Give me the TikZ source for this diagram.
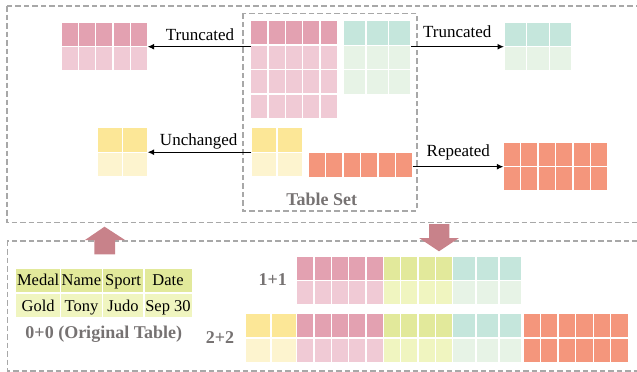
\documentclass[tikz,border=0pt]{standalone}
\usepackage{fontspec}
\setmainfont{Liberation Serif}
\usetikzlibrary{arrows.meta}
\definecolor{pinkD}{HTML}{E3A1B1}
\definecolor{pinkL}{HTML}{F0CAD5}
\definecolor{tealD}{HTML}{C5E6DC}
\definecolor{tealL}{HTML}{E7F3E6}
\definecolor{yelD}{HTML}{FCE797}
\definecolor{yelL}{HTML}{FDF4CF}
\definecolor{orng}{HTML}{F4967C}
\definecolor{limeD}{HTML}{E2E99B}
\definecolor{limeL}{HTML}{F0F5C0}
\definecolor{dashgray}{HTML}{A8A8A8}
\definecolor{labgray}{HTML}{767272}
\definecolor{blockarrow}{HTML}{C8828A}
\tikzset{
  cell/.style={draw=white, line width=1.4pt},
  dashbox/.style={draw=dashgray, line width=1.6pt, dash pattern=on 5.5pt off 3pt},
  conn/.style={draw=black, line width=1.1pt, -{Latex[length=6.5pt,width=6pt]}},
  lbl/.style={inner sep=0pt, font=\fontsize{17}{19}\selectfont, anchor=base},
  blbl/.style={inner sep=0pt, font=\fontsize{18}{20}\selectfont\bfseries, text=labgray, anchor=base},
  ttxt/.style={inner sep=0pt, font=\fontsize{16.5}{18}\selectfont, anchor=base},
  blk/.style={fill=blockarrow, draw=none}
}
\newcommand{\crow}[6]{\foreach \ci in {1,...,#3}{\filldraw[cell, fill=#6] ({#1+(\ci-1)*#4},#2) rectangle ++(#4,#5);}}
\newcommand{\tnode}[5]{\node[inner sep=0pt, outer sep=0pt, minimum width=#4pt, minimum height=#5pt, anchor=north west] (#1) at (#2,#3) {};}
\begin{document}
\begin{tikzpicture}[x=1pt,y=-1pt]
\useasboundingbox (0,0) rectangle (637,372);
\begin{scope}
\clip (0,0) rectangle (637,372);
% outer boxes
\draw[dashbox] (7,6) rectangle (660,222.5);
\draw[dashbox] (7.3,240.7) rectangle (660,370.7);
\end{scope}
% table set box
\draw[dashbox] (243,13.3) rectangle (416.7,211);
\node[blbl] (tsetlbl) at (321.7,205) {Table Set};

% ---- Table set contents
% pink 5x4
\crow{250.7}{20.7}{5}{17.32}{24.4}{pinkD}
\crow{250.7}{45.1}{5}{17.32}{24.4}{pinkL}
\crow{250.7}{69.5}{5}{17.32}{24.4}{pinkL}
\crow{250.7}{93.9}{5}{17.32}{24.4}{pinkL}
\tnode{pinkset}{250.7}{20.7}{86.6}{97.6}
% teal 3x3
\crow{343.3}{20.7}{3}{22.57}{24.5}{tealD}
\crow{343.3}{45.2}{3}{22.57}{24.5}{tealL}
\crow{343.3}{69.7}{3}{22.57}{24.5}{tealL}
\tnode{gset}{343.3}{20.7}{67.7}{73.5}
% yellow 2x2
\crow{251.3}{127.7}{2}{25.7}{24.5}{yelD}
\crow{251.3}{152.2}{2}{25.7}{24.5}{yelL}
\tnode{yset}{251.3}{127.7}{51.4}{49}
% orange 6x1
\crow{308.3}{152.7}{6}{17.4}{24.5}{orng}
\tnode{oset}{308.3}{152.7}{104.4}{24.5}

% ---- outputs
\crow{61}{22.3}{5}{17.34}{24.4}{pinkD}
\crow{61}{46.7}{5}{17.34}{24.4}{pinkL}
\tnode{pinkout}{61}{22.3}{86.7}{48.8}
\crow{97}{127.7}{2}{25.35}{24.5}{yelD}
\crow{97}{152.2}{2}{25.35}{24.5}{yelL}
\tnode{yout}{97}{127.7}{50.7}{49}
\crow{504}{22.3}{3}{22.67}{24.4}{tealD}
\crow{504}{46.7}{3}{22.67}{24.4}{tealL}
\tnode{gout}{504}{22.3}{68}{48.8}
\crow{503.3}{142.3}{6}{17.4}{24.4}{orng}
\crow{503.3}{166.7}{6}{17.4}{24.4}{orng}
\tnode{oout}{503.3}{142.3}{104.4}{48.8}

% connectors
\draw[conn] (pinkset.west |- pinkout.east) -- (pinkout.east);
\draw[conn] (yset.west |- yout.east) -- (yout.east);
\draw[conn] (gset.east |- gout.west) -- (gout.west);
\draw[conn] (oset.east |- oout.west) -- (oout.west);
\node[lbl] (ltrunc) at (200,40) {Truncated};
\node[lbl] (lunch) at (198.7,145.5) {Unchanged};
\node[lbl] (rtrunc) at (457.2,37.7) {Truncated};
\node[lbl] (rrep) at (458.3,156.7) {Repeated};

% block arrows
\fill[blk] (94.3,254.3) -- (94.3,240) -- (85,240) -- (104.5,226.7) -- (125,240) -- (115,240) -- (115,254.3) -- cycle;
\fill[blk] (429,224) -- (449.3,224) -- (449.3,238) -- (459,238) -- (439,251.3) -- (419,238) -- (429,238) -- cycle;

% ---- original table
\filldraw[cell, fill=limeD] (15.7,268) rectangle (60.5,293);
\filldraw[cell, fill=limeD] (60.5,268) rectangle (102.3,293);
\filldraw[cell, fill=limeD] (102.3,268) rectangle (143.8,293);
\filldraw[cell, fill=limeD] (143.8,268) rectangle (192.2,293);
\filldraw[cell, fill=limeL] (15.7,293) rectangle (60.5,318);
\filldraw[cell, fill=limeL] (60.5,293) rectangle (102.3,318);
\filldraw[cell, fill=limeL] (102.3,293) rectangle (143.8,318);
\filldraw[cell, fill=limeL] (143.8,293) rectangle (192.2,318);
\node[ttxt] (h1) at (38.1,285.7) {Medal};
\node[ttxt] (h2) at (81.4,285.7) {Name};
\node[ttxt] (h3) at (123,285.7) {Sport};
\node[ttxt] (h4) at (168,285.7) {Date};
\node[ttxt] (r1) at (38.1,311) {Gold};
\node[ttxt] (r2) at (81.4,311) {Tony};
\node[ttxt] (r3) at (123,311) {Judo};
\node[ttxt] (r4) at (168,311) {Sep 30};
\node[blbl] (origlbl) at (103.8,338.3) {0+0 (Original Table)};

% ---- 1+1
\node[blbl] (l11) at (272.7,285.7) {1+1};
\crow{296.7}{256}{5}{17.33}{24.5}{pinkD}
\crow{296.7}{280.5}{5}{17.33}{24.5}{pinkL}
\crow{383.35}{256}{4}{17.35}{24.5}{limeD}
\crow{383.35}{280.5}{4}{17.35}{24.5}{limeL}
\crow{452.75}{256}{3}{23.1}{24.5}{tealD}
\crow{452.75}{280.5}{3}{23.1}{24.5}{tealL}

% ---- 2+2
\node[blbl] (l22) at (220,343.3) {2+2};
\crow{245}{313.5}{2}{25.85}{24.5}{yelD}
\crow{245}{338}{2}{25.85}{24.5}{yelL}
\crow{296.7}{313.5}{5}{17.33}{24.5}{pinkD}
\crow{296.7}{338}{5}{17.33}{24.5}{pinkL}
\crow{383.35}{313.5}{4}{17.35}{24.5}{limeD}
\crow{383.35}{338}{4}{17.35}{24.5}{limeL}
\crow{452.75}{313.5}{3}{23.1}{24.5}{tealD}
\crow{452.75}{338}{3}{23.1}{24.5}{tealL}
\crow{523}{313.5}{6}{17.55}{24.5}{orng}
\crow{523}{338}{6}{17.55}{24.5}{orng}
\end{tikzpicture}
\end{document}
